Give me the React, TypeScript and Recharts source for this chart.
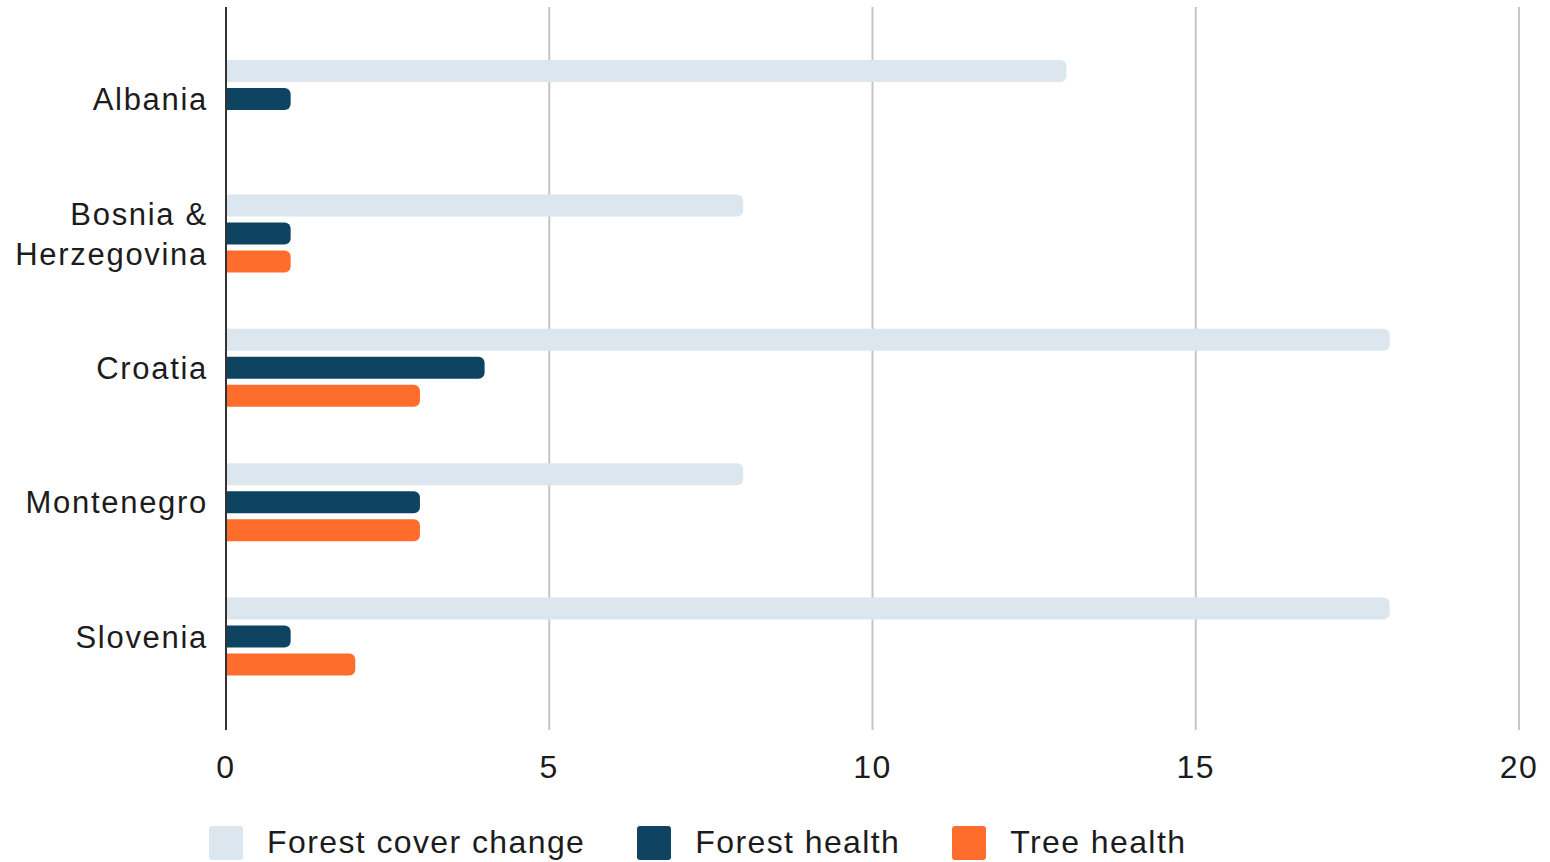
import * as React from "react";
import {
  Bar,
  BarChart,
  CartesianGrid,
  Legend,
  XAxis,
  YAxis,
} from "recharts";

const countries = [
  "Albania",
  "Bosnia & Herzegovina",
  "Croatia",
  "Montenegro",
  "Slovenia",
];
const forestCoverChange = [13, 8, 18, 8, 18];
const forestHealth = [1, 1, 4, 3, 1];
const treeHealth = [0, 1, 3, 3, 2];
const xTicks = [0, 5, 10, 15, 20];

const SERIES = [
  { key: "forestCover", label: "Forest cover change", color: "#dce6ee" },
  { key: "forestHealth", label: "Forest health", color: "#0e4462" },
  { key: "treeHealth", label: "Tree health", color: "#ff6d2d" },
];

const FONT = "'Liberation Sans', Arial, sans-serif";
const TEXT = "#1c1c1c";

const rows = countries.map((country, i) => ({
  country,
  forestCover: forestCoverChange[i],
  forestHealth: forestHealth[i],
  treeHealth: treeHealth[i],
}));

// greedy word wrap so long country names split onto two lines
function wrapLabel(text: string, maxChars = 13) {
  const lines: string[] = [];
  let cur = "";
  for (const word of text.split(" ")) {
    const next = cur ? `${cur} ${word}` : word;
    if (next.length > maxChars && cur) {
      lines.push(cur);
      cur = word;
    } else {
      cur = next;
    }
  }
  if (cur) lines.push(cur);
  return lines;
}

function CountryTick(props: any) {
  const { x, y, payload } = props;
  const lines = wrapLabel(String(payload.value));
  const lineHeight = 40;
  const startDy = -((lines.length - 1) * lineHeight) / 2;
  return (
    <text
      x={x}
      y={y}
      textAnchor="end"
      fill={TEXT}
      fontSize={31}
      fontFamily={FONT}
      letterSpacing={1.7}
    >
      {lines.map((line, i) => (
        <tspan key={i} x={x} dy={i === 0 ? startDy + 11 : lineHeight}>
          {line}
        </tspan>
      ))}
    </text>
  );
}

function LegendContent() {
  return (
    <div
      style={{
        display: "flex",
        alignItems: "center",
        paddingLeft: 209,
        paddingTop: 14,
        fontFamily: FONT,
        fontSize: 32,
        letterSpacing: 1.4,
        color: TEXT,
      }}
    >
      {SERIES.map((s) => (
        <div
          key={s.key}
          style={{ display: "flex", alignItems: "center", marginRight: 52 }}
        >
          <span
            style={{
              width: 34,
              height: 34,
              borderRadius: 3,
              background: s.color,
              marginRight: 24,
              display: "inline-block",
            }}
          />
          <span>{s.label}</span>
        </div>
      ))}
    </div>
  );
}

export default function App() {
  return (
    <div style={{ position: "absolute", left: 0, top: 0, background: "#fff" }}>
      <BarChart
        width={1550}
        height={862}
        data={rows}
        layout="vertical"
        barSize={22}
        barGap={6}
        margin={{ top: 7, right: 31, left: 0, bottom: 0 }}
      >
        <CartesianGrid
          horizontal={false}
          stroke="#c6c6c6"
          strokeWidth={2}
        />
        <XAxis
          type="number"
          domain={[0, 20]}
          ticks={xTicks}
          axisLine={false}
          tickLine={false}
          tickSize={0}
          tickMargin={25}
          height={80}
          tick={{ fill: TEXT, fontSize: 32, fontFamily: FONT, letterSpacing: 1.5 }}
        />
        <YAxis
          type="category"
          dataKey="country"
          width={226}
          padding={{ top: 25, bottom: 26 }}
          axisLine={{ stroke: "#333333", strokeWidth: 2 }}
          tickLine={false}
          tickSize={0}
          tickMargin={18}
          tick={<CountryTick />}
        />
        <Legend
          verticalAlign="bottom"
          align="left"
          height={52}
          content={() => <LegendContent />}
        />
        {SERIES.map((s) => (
          <Bar
            key={s.key}
            dataKey={s.key}
            name={s.label}
            fill={s.color}
            radius={[0, 6, 6, 0]}
            isAnimationActive={false}
          />
        ))}
      </BarChart>
    </div>
  );
}
